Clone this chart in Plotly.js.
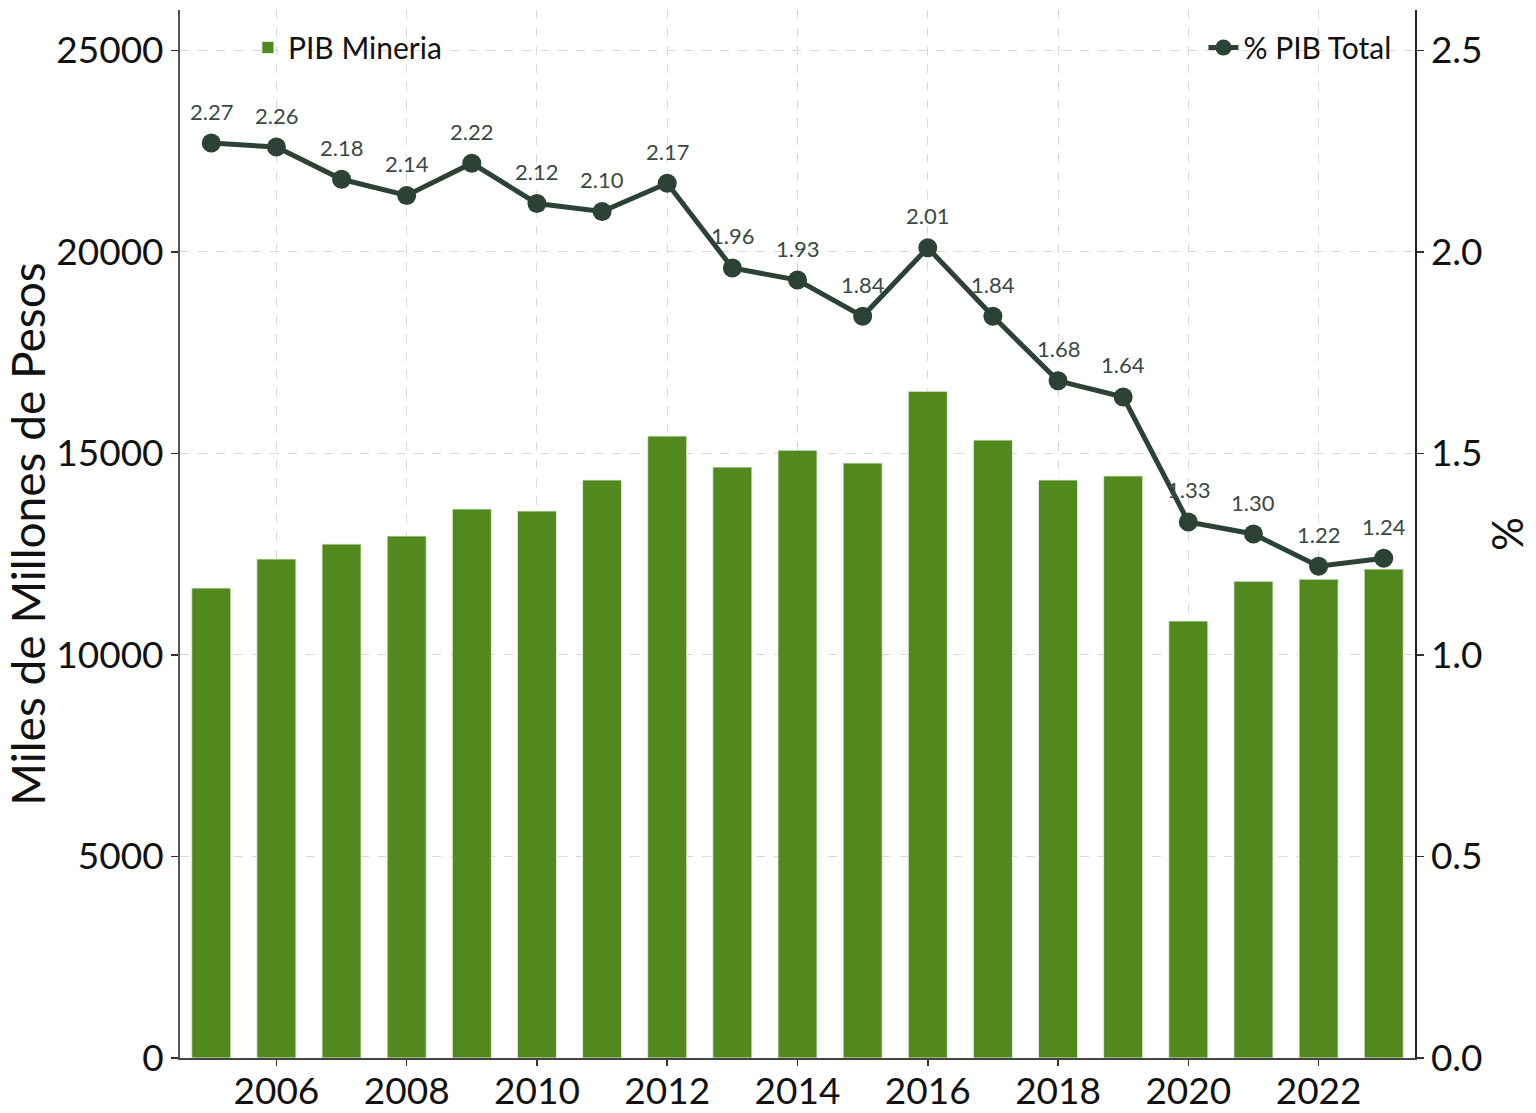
<!DOCTYPE html>
<html>
<head>
<meta charset="utf-8">
<script src="https://cdn.plot.ly/plotly-3.0.1.min.js"></script>
<style>html,body{margin:0;padding:0;background:#fff}#chart{width:1536px;height:1113px}</style>
</head>
<body>
<div id="chart"></div>
<script>
const years = [2005,2006,2007,2008,2009,2010,2011,2012,2013,2014,2015,2016,2017,2018,2019,2020,2021,2022,2023];
const pibMineria = [11660,12380,12750,12950,13620,13570,14340,15430,14660,15080,14760,16540,15330,14340,14440,10840,11830,11880,12130];
const pctPibTotal = [2.27,2.26,2.18,2.14,2.22,2.12,2.10,2.17,1.96,1.93,1.84,2.01,1.84,1.68,1.64,1.33,1.30,1.22,1.24];
const xTicks = [2006,2008,2010,2012,2014,2016,2018,2020,2022];
const yTicks = [0,5000,10000,15000,20000,25000];
const y2Ticks = [0,0.5,1.0,1.5,2.0,2.5];

const FONT = 'Lato, "Open Sans", sans-serif';
const dark = '#2d4236';

const traces = [
  {
    type: 'bar', x: years, y: pibMineria, name: 'PIB Mineria',
    width: 0.6,
    marker: {color: '#52891f', line: {color: 'rgba(230,240,225,0.9)', width: 1}},
    legend: 'legend', hoverinfo: 'skip'
  },
  {
    type: 'scatter', mode: 'lines+markers', x: years, y: pctPibTotal, yaxis: 'y2',
    name: '% PIB Total',
    line: {color: dark, width: 5},
    marker: {color: dark, size: 19},
    legend: 'legend2', hoverinfo: 'skip', cliponaxis: false
  }
];

const labelAnnotations = years.map((yr, i) => ({
  x: yr, y: pctPibTotal[i], xref: 'x', yref: 'y2',
  text: pctPibTotal[i].toFixed(2), showarrow: false,
  yanchor: 'middle', xanchor: 'center', yshift: 32,
  font: {family: FONT, size: 22, color: '#3a4a42'}
}));

const layout = {
  width: 1536, height: 1113,
  margin: {l: 180, r: 121, t: 10, b: 55},
  paper_bgcolor: '#fff', plot_bgcolor: '#fff',
  font: {family: FONT, color: '#111'},
  showlegend: true,
  annotations: labelAnnotations,
  xaxis: {
    range: [2004.52, 2023.48],
    tickvals: xTicks, ticktext: xTicks.map(String),
    tickfont: {size: 37, color: '#111'},
    ticks: 'outside', ticklen: 6, tickcolor: '#333', tickwidth: 1.5,
    ticklabelstandoff: -6,
    showline: true, linecolor: '#444', linewidth: 1.5,
    showgrid: true, gridcolor: '#d9d9d9', griddash: 'dash', gridwidth: 1,
    zeroline: false, layer: 'above traces'
  },
  yaxis: {
    range: [0, 26000],
    tickvals: yTicks, ticktext: yTicks.map(String),
    tickfont: {size: 37, color: '#111'},
    ticks: 'outside', ticklen: 7, tickcolor: '#333', tickwidth: 1.5,
    showline: true, linecolor: '#555', linewidth: 2,
    showgrid: true, gridcolor: '#d9d9d9', griddash: 'dash', gridwidth: 1,
    zeroline: false,
    title: {text: 'Miles de Millones de Pesos', font: {size: 46, color: '#111'}, standoff: 10}
  },
  yaxis2: {
    overlaying: 'y', side: 'right', anchor: 'x',
    range: [0, 2.6],
    tickvals: y2Ticks, ticktext: y2Ticks.map(v => v.toFixed(1)),
    tickfont: {size: 37, color: '#111'},
    ticks: 'outside', ticklen: 7, tickcolor: '#333', tickwidth: 1.5,
    showline: true, linecolor: '#222', linewidth: 1.5,
    showgrid: false, zeroline: false,
    title: {text: '%', font: {size: 42, color: '#111'}, standoff: 12}
  },
  legend: {
    x: 0.055, y: 0.989, xanchor: 'left', yanchor: 'top',
    bgcolor: 'rgba(255,255,255,0)', font: {size: 30, color: '#111'}
  },
  legend2: {
    x: 0.985, y: 0.989, xanchor: 'right', yanchor: 'top',
    bgcolor: 'rgba(255,255,255,0)', font: {size: 30, color: '#111'}
  }
};

Plotly.newPlot('chart', traces, layout, {staticPlot: true, displayModeBar: false});
</script>
</body>
</html>
